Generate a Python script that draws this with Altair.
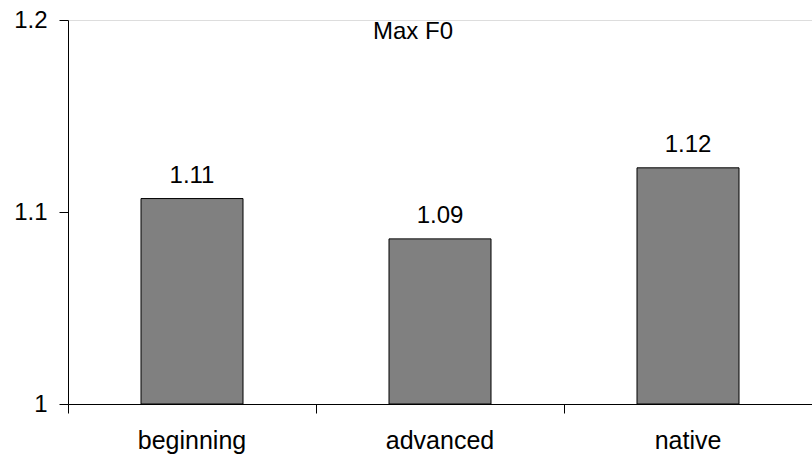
import altair as alt
import pandas as pd

# Mean maximum F0 ratio per speaker group
groups = ["beginning", "advanced", "native"]
max_f0 = [1.107, 1.086, 1.123]
baseline = 1.0

df = pd.DataFrame({"group": groups, "value": max_f0})

FONT = "Liberation Sans"

x = alt.X(
    "group:N",
    sort=groups,
    scale=alt.Scale(paddingInner=0, paddingOuter=0),
    axis=alt.Axis(
        title=None,
        labelAngle=0,
        labelFontSize=25,
        labelFont=FONT,
        labelColor="black",
        labelPadding=15,
        bandPosition=0,
        tickSize=9,
        tickColor="black",
        domainColor="black",
        grid=False,
    ),
)

y = alt.Y(
    "value:Q",
    scale=alt.Scale(domain=[1.0, 1.2], nice=False, zero=False),
    axis=alt.Axis(
        title=None,
        values=[1.0, 1.1, 1.2],
        format="~g",
        labelFontSize=24,
        labelFont=FONT,
        labelColor="black",
        labelPadding=12,
        tickSize=9,
        tickColor="black",
        domainColor="black",
        grid=False,
    ),
)

bars = alt.Chart(df).mark_bar(
    size=102, color="#808080", stroke="black", strokeWidth=1
).encode(x=x, y=y, y2=alt.datum(baseline))

labels = alt.Chart(df).mark_text(
    baseline="alphabetic", dy=-16, fontSize=24, font=FONT, color="black"
).encode(x=x, y=y, text=alt.Text("value:Q", format=".2f"))

chart = (
    alt.layer(bars, labels)
    .properties(
        width=744,
        height=384,
        padding={"left": 68, "top": 20, "right": 0, "bottom": 52},
        autosize=alt.AutoSizeParams(type="none"),
        title=alt.TitleParams(
            "Max F0",
            font=FONT,
            fontSize=24,
            fontWeight="normal",
            color="black",
            anchor="middle",
            baseline="top",
            dx=-27,
            dy=40,
        ),
    )
    .configure_view(stroke=None)
    .configure(background="white")
)

chart.save("out.html", embed_options={"renderer": "svg", "actions": False})
